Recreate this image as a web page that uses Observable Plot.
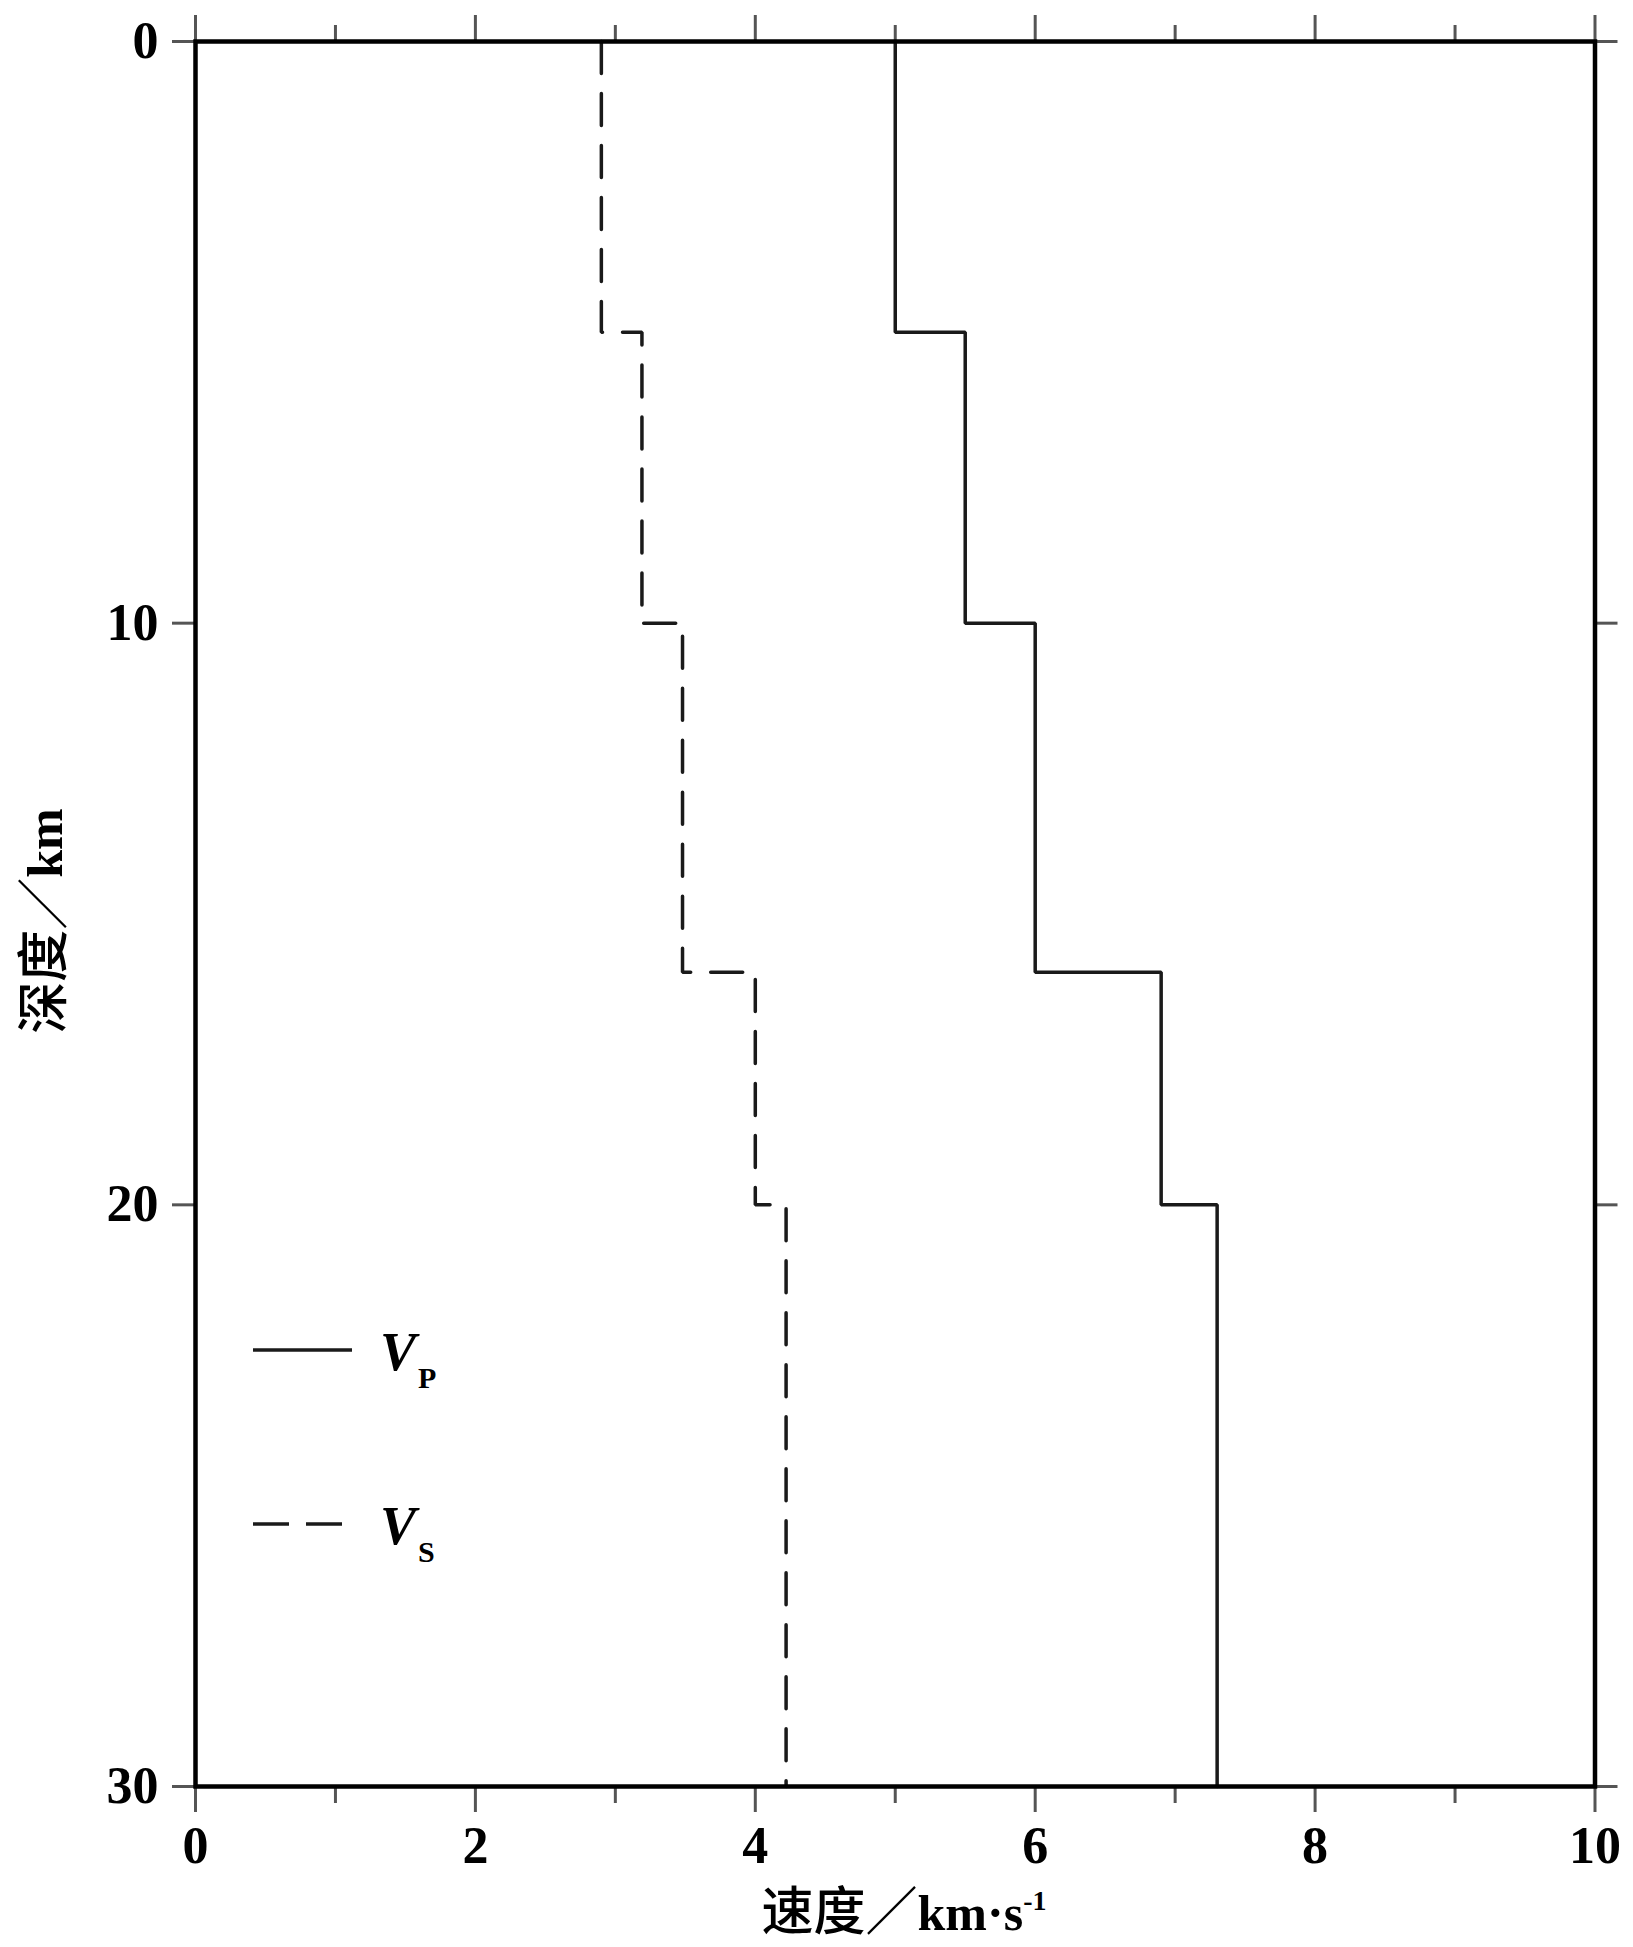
<!DOCTYPE html>
<html>
<head>
<meta charset="utf-8">
<script src="https://cdn.jsdelivr.net/npm/d3@7"></script>
<script src="https://cdn.jsdelivr.net/npm/@observablehq/plot@0.6"></script>
<style>
  html, body { margin: 0; padding: 0; background: white; }
  #chart svg { display: block; }
</style>
</head>
<body>
<div id="chart"></div>
<script>
// Layer model: depth intervals (km) and velocities (km/s)
const depthTop    = [0, 5, 10, 16, 20];
const depthBottom = [5, 10, 16, 20, 30];
const vp = [5.0, 5.5, 6.0, 6.9, 7.3];
const vs = [2.9, 3.19, 3.48, 4.0, 4.22];

const xMajorTicks = [0, 2, 4, 6, 8, 10];
const xMinorTicks = [1, 3, 5, 7, 9];
const yTicks = [0, 10, 20, 30];

const seriesNames = ["P", "S"];

function profile(v) {
  return v.flatMap((val, i) => [
    {v: val, d: depthTop[i]},
    {v: val, d: depthBottom[i]}
  ]);
}

const tickStyle = {stroke: "#555", strokeWidth: 3};
const textStyle = {fill: "black", fontSize: 52, fontWeight: "bold", fontFamily: "Liberation Serif"};
const noText = {tickFormat: () => "", label: null};

const chart = Plot.plot({
  width: 1633,
  height: 1947,
  marginLeft: 195,
  marginRight: 38.5,
  marginTop: 41,
  marginBottom: 161,
  x: {domain: [0, 10]},
  y: {domain: [0, 30], reverse: true},
  style: {background: "white", fontFamily: "Liberation Serif", color: "black", overflow: "visible"},
  marks: [
    Plot.axisX({anchor: "bottom", ticks: xMajorTicks, tickSize: 26, tickPadding: 14, label: null,
      tickFormat: d => String(d), ...tickStyle, ...textStyle}),
    Plot.axisX({anchor: "bottom", ticks: xMinorTicks, tickSize: 17, ...noText, ...tickStyle}),
    Plot.axisX({anchor: "top", ticks: xMajorTicks, tickSize: 27, ...noText, ...tickStyle}),
    Plot.axisX({anchor: "top", ticks: xMinorTicks, tickSize: 17, ...noText, ...tickStyle}),
    Plot.axisY({anchor: "left", ticks: yTicks, tickSize: 23, tickPadding: 14, label: null,
      tickFormat: d => String(d), ...tickStyle, ...textStyle}),
    Plot.axisY({anchor: "right", ticks: yTicks, tickSize: 22, ...noText, ...tickStyle}),
    Plot.line(profile(vp), {x: "v", y: "d", stroke: "#1a1a1a", strokeWidth: 3.5, strokeLinejoin: "miter"}),
    Plot.line(profile(vs), {x: "v", y: "d", stroke: "#1a1a1a", strokeWidth: 3.5, strokeDasharray: "32,20", strokeLinejoin: "miter"}),
    Plot.frame({stroke: "black", strokeWidth: 4.5})
  ]
});

document.getElementById("chart").appendChild(chart);

// Axis titles and legend (layout annotations)
const svg = d3.select(chart);
const cjk = "'Noto Sans CJK SC', sans-serif";
const serif = "'Liberation Serif', serif";

// x-axis title
const xt = svg.append("text")
  .attr("x", 904).attr("y", 1930)
  .attr("text-anchor", "middle")
  .attr("fill", "black");
xt.append("tspan").attr("font-family", cjk).attr("font-size", 52).attr("font-weight", 500).text("速度／");
xt.append("tspan").attr("font-family", serif).attr("font-size", 50).attr("font-weight", "bold").text("km·s");
xt.append("tspan").attr("font-family", serif).attr("font-size", 28).attr("font-weight", "bold").attr("dy", -20).text("-1");

// y-axis title
const yt = svg.append("text")
  .attr("transform", "translate(62,921) rotate(-90)")
  .attr("text-anchor", "middle")
  .attr("fill", "black");
yt.append("tspan").attr("font-family", cjk).attr("font-size", 52).attr("font-weight", 500).text("深度／");
yt.append("tspan").attr("font-family", serif).attr("font-size", 50).attr("font-weight", "bold").text("km");

// legend
const legendY = [1350, 1524];
const legendDash = [null, "36,17"];
seriesNames.forEach((name, i) => {
  const g = svg.append("g");
  const ln = g.append("line")
    .attr("x1", 253).attr("x2", 352)
    .attr("y1", legendY[i]).attr("y2", legendY[i])
    .attr("stroke", "#1a1a1a").attr("stroke-width", 3.5);
  if (legendDash[i]) ln.attr("stroke-dasharray", legendDash[i]);
  const t = g.append("text")
    .attr("x", 380).attr("y", legendY[i] + 20)
    .attr("text-anchor", "start")
    .attr("font-family", serif).attr("font-weight", "bold").attr("fill", "black");
  t.append("tspan").attr("font-size", 54).attr("font-style", "italic").text("V");
  t.append("tspan").attr("font-size", 30).attr("dx", 2).attr("dy", 18).text(name);
});
</script>
</body>
</html>
